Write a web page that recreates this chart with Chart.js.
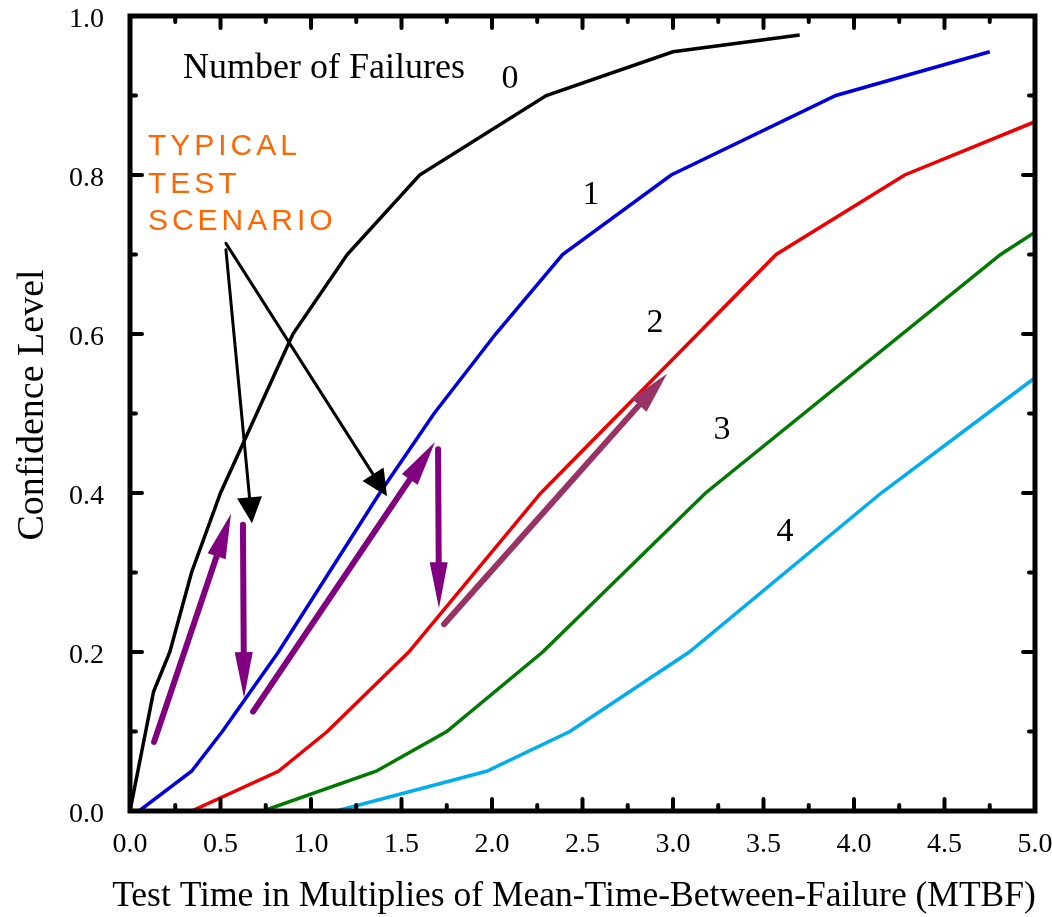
<!DOCTYPE html>
<html>
<head>
<meta charset="utf-8">
<script src="https://cdn.jsdelivr.net/npm/chart.js@4/dist/chart.umd.min.js"></script>
<style>
  html, body { margin: 0; padding: 0; background: #fff; }
  #wrap { width: 1052px; height: 917px; }
</style>
</head>
<body>
<div id="wrap"><canvas id="chart"></canvas></div>
<script>
// test time (multiples of MTBF) and confidence level, one pair per number of failures
const time0 = [0, 0.13, 0.22, 0.34, 0.5, 0.9, 1.2, 1.6, 2.3, 3.0, 3.7];
const conf0 = [0, 0.15, 0.2, 0.3, 0.4, 0.6, 0.7, 0.8, 0.9, 0.955, 0.976];
const time1 = [0, 0.05, 0.34, 0.51, 0.82, 1.1, 1.38, 1.68, 2.02, 2.39, 2.99, 3.9, 4.75];
const conf1 = [0, 0, 0.05, 0.1, 0.2, 0.3, 0.4, 0.5, 0.6, 0.7, 0.8, 0.9, 0.955];
const time2 = [0.34, 0.82, 1.09, 1.54, 2.27, 3.57, 4.28, 5.0];
const conf2 = [0, 0.05, 0.1, 0.2, 0.4, 0.7, 0.8, 0.867];
const time3 = [0.735, 1.36, 1.75, 2.28, 3.18, 4.81, 5.0];
const conf3 = [0, 0.05, 0.1, 0.2, 0.4, 0.7, 0.728];
const time4 = [1.14, 1.97, 2.43, 3.09, 4.15, 5.0];
const conf4 = [0, 0.05, 0.1, 0.2, 0.4, 0.545];

const failureLabels = ['0', '1', '2', '3', '4'];
const xTickLabels = ['0.0', '0.5', '1.0', '1.5', '2.0', '2.5', '3.0', '3.5', '4.0', '4.5', '5.0'];
const yTickLabels = ['0.0', '0.2', '0.4', '0.6', '0.8', '1.0'];

const serif = '"Liberation Serif", "Times New Roman", serif';
const sans = '"Liberation Sans", Arial, sans-serif';

function toPoints(xs, ys) {
  return xs.map((x, i) => ({ x: x, y: ys[i] }));
}

function curve(label, xs, ys, color) {
  return {
    label: label,
    data: toPoints(xs, ys),
    showLine: true,
    borderColor: color,
    backgroundColor: color,
    borderWidth: 3.5,
    pointRadius: 0,
    tension: 0
  };
}

// annotation texts and arrows, placed in data units
const curveLabelPos = [[2.10, 0.921], [2.547, 0.775], [2.90, 0.614], [3.271, 0.479], [3.619, 0.351]];
const scenarioLines = ['TYPICAL', 'TEST', 'SCENARIO'];
const arrows = [
  { from: [0.133, 0.087], to: [0.558, 0.374], color: '#800080', width: 6, head: 45, headW: 19 },
  { from: [0.624, 0.360], to: [0.630, 0.142], color: '#800080', width: 6, head: 46, headW: 18 },
  { from: [0.680, 0.125], to: [1.685, 0.464], color: '#800080', width: 6, head: 45, headW: 19 },
  { from: [1.702, 0.455], to: [1.707, 0.255], color: '#800080', width: 6, head: 46, headW: 18 },
  { from: [1.735, 0.235], to: [2.967, 0.550], color: '#993366', width: 6, head: 42, headW: 20 },
  { from: [0.530, 0.706], to: [0.674, 0.362], color: '#000000', width: 3, head: 26, headW: 25 },
  { from: [0.530, 0.714], to: [1.420, 0.396], color: '#000000', width: 3, head: 26, headW: 25 }
];

function drawArrow(ctx, x1, y1, x2, y2, a) {
  const ang = Math.atan2(y2 - y1, x2 - x1);
  const bx = x2 - Math.cos(ang) * a.head;
  const by = y2 - Math.sin(ang) * a.head;
  ctx.strokeStyle = a.color;
  ctx.fillStyle = a.color;
  ctx.lineWidth = a.width;
  ctx.lineCap = 'round';
  ctx.beginPath();
  ctx.moveTo(x1, y1);
  ctx.lineTo(bx + Math.cos(ang) * 4, by + Math.sin(ang) * 4);
  ctx.stroke();
  const nx = -Math.sin(ang) * a.headW / 2;
  const ny = Math.cos(ang) * a.headW / 2;
  ctx.beginPath();
  ctx.moveTo(x2, y2);
  ctx.lineTo(bx + nx, by + ny);
  ctx.lineTo(bx - nx, by - ny);
  ctx.closePath();
  ctx.fill();
}

// keep tick labels from pushing the plot area around
function fixBox(s, w, h) {
  if (w) s.width = w;
  if (h) s.height = h;
  s.paddingTop = 0;
  s.paddingBottom = 0;
  s.paddingLeft = 0;
  s.paddingRight = 0;
}

const framePlugin = {
  id: 'frame',
  afterDatasetsDraw(chart) {
    const { ctx, chartArea: a, scales: { x, y } } = chart;
    ctx.save();

    // inward ticks on all four sides
    ctx.strokeStyle = '#000';
    ctx.lineWidth = 4;
    ctx.lineCap = 'round';
    ctx.beginPath();
    x.ticks.forEach(t => {
      const px = x.getPixelForValue(t.value);
      const major = Math.abs(t.value * 2 - Math.round(t.value * 2)) < 1e-6;
      const len = major ? 12 : 6;
      ctx.moveTo(px, a.bottom); ctx.lineTo(px, a.bottom - len);
      ctx.moveTo(px, a.top); ctx.lineTo(px, a.top + len);
    });
    y.ticks.forEach(t => {
      const py = y.getPixelForValue(t.value);
      const major = Math.abs(t.value * 5 - Math.round(t.value * 5)) < 1e-6;
      const len = major ? 12 : 6;
      ctx.moveTo(a.left, py); ctx.lineTo(a.left + len, py);
      ctx.moveTo(a.right, py); ctx.lineTo(a.right - len, py);
    });
    ctx.stroke();

    // frame
    ctx.lineWidth = 5;
    ctx.lineCap = 'butt';
    ctx.strokeRect(a.left, a.top, a.width, a.height);

    // arrows
    arrows.forEach(ar => {
      drawArrow(ctx,
        x.getPixelForValue(ar.from[0]), y.getPixelForValue(ar.from[1]),
        x.getPixelForValue(ar.to[0]), y.getPixelForValue(ar.to[1]), ar);
    });

    // curve labels
    ctx.fillStyle = '#000';
    ctx.font = '36px ' + serif;
    ctx.textAlign = 'left';
    ctx.textBaseline = 'alphabetic';
    ctx.fillText('Number of Failures', x.getPixelForValue(0.293), y.getPixelForValue(0.922));
    ctx.textAlign = 'center';
    ctx.textBaseline = 'middle';
    ctx.font = '34px ' + serif;
    failureLabels.forEach((lab, i) => {
      ctx.fillText(lab, x.getPixelForValue(curveLabelPos[i][0]), y.getPixelForValue(curveLabelPos[i][1]));
    });

    // scenario note
    ctx.fillStyle = '#FF6600';
    ctx.font = '30px ' + sans;
    ctx.textAlign = 'left';
    ctx.textBaseline = 'alphabetic';
    ctx.letterSpacing = '4px';
    const sx = x.getPixelForValue(0.099);
    [0.825, 0.777, 0.731].forEach((yy, i) => {
      ctx.fillText(scenarioLines[i], sx, y.getPixelForValue(yy));
    });
    ctx.letterSpacing = '0px';

    // axis titles
    ctx.fillStyle = '#000';
    ctx.font = '35.5px ' + serif;
    ctx.textAlign = 'center';
    ctx.fillText('Test Time in Multiplies of Mean-Time-Between-Failure (MTBF)', 574, 906);
    ctx.font = '38px ' + serif;
    ctx.translate(43, 405);
    ctx.rotate(-Math.PI / 2);
    ctx.fillText('Confidence Level', 0, 0);

    ctx.restore();
  }
};

new Chart(document.getElementById('chart'), {
  type: 'scatter',
  data: {
    datasets: [
      curve(failureLabels[0], time0, conf0, '#000000'),
      curve(failureLabels[1], time1, conf1, '#0000DD'),
      curve(failureLabels[2], time2, conf2, '#EE0000'),
      curve(failureLabels[3], time3, conf3, '#007A00'),
      curve(failureLabels[4], time4, conf4, '#00ADEE')
    ]
  },
  options: {
    responsive: true,
    maintainAspectRatio: false,
    animation: false,
    layout: { padding: { top: 16, right: 17, left: 0, bottom: 0 } },
    plugins: { legend: { display: false }, tooltip: { enabled: false } },
    scales: {
      x: {
        type: 'linear', min: 0, max: 5,
        afterFit: s => fixBox(s, 0, 106),
        grid: { display: false, drawTicks: false },
        border: { display: false },
        ticks: {
          stepSize: 0.25, autoSkip: false, maxRotation: 0, padding: 17,
          color: '#000', font: { family: serif, size: 28 },
          callback: v => {
            const i = Math.round(v * 2);
            return Math.abs(v * 2 - i) < 1e-6 ? xTickLabels[i] : '';
          }
        }
      },
      y: {
        type: 'linear', min: 0, max: 1,
        afterFit: s => fixBox(s, 130, 0),
        grid: { display: false, drawTicks: false },
        border: { display: false },
        ticks: {
          stepSize: 0.1, autoSkip: false, padding: 26, labelOffset: 4,
          color: '#000', font: { family: serif, size: 28 },
          callback: v => {
            const i = Math.round(v * 5);
            return Math.abs(v * 5 - i) < 1e-6 ? yTickLabels[i] : '';
          }
        }
      }
    }
  },
  plugins: [framePlugin]
});
</script>
</body>
</html>
